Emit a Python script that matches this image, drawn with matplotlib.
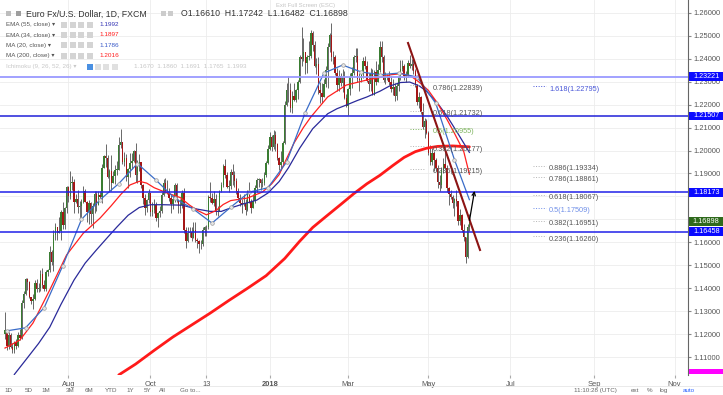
import numpy as np
import pandas as pd
import matplotlib
matplotlib.use("Agg")
import matplotlib.pyplot as plt
from matplotlib.patches import Rectangle
from matplotlib.transforms import blended_transform_factory

plt.rcParams['font.family'] = ['Liberation Sans', 'DejaVu Sans']

# EUR/USD daily bars (FXCM), 14 Jun 2017 .. 31 May 2018, one line per month
first_open = 1.1200
close = [
    1.1217, 1.1150, 1.1197, 1.1145, 1.1131, 1.1166, 1.1151, 1.1195, 1.1182, 1.1337, 1.1375, 1.1442, 1.1426,
    1.1362, 1.1346, 1.1352, 1.1423, 1.1399, 1.1401, 1.1462, 1.1413, 1.1397, 1.1470, 1.1478, 1.1557, 1.1514, 1.1632, 1.1665, 1.1642, 1.1648, 1.1734, 1.1676, 1.1750, 1.1842,
    1.1803, 1.1858, 1.1862, 1.1774, 1.1791, 1.1752, 1.1757, 1.1774, 1.1822, 1.1778, 1.1734, 1.1770, 1.1725, 1.1760, 1.1812, 1.1761, 1.1806, 1.1799, 1.1922, 1.1977, 1.1967, 1.1886, 1.1909,
    1.1860, 1.1887, 1.1915, 1.1917, 1.2025, 1.2035, 1.1950, 1.1967, 1.1885, 1.1920, 1.1945, 1.1953, 1.1998, 1.1892, 1.1939, 1.1950, 1.1850, 1.1794, 1.1748, 1.1785, 1.1814,
    1.1733, 1.1742, 1.1761, 1.1707, 1.1730, 1.1735, 1.1806, 1.1858, 1.1823, 1.1821, 1.1795, 1.1765, 1.1789, 1.1849, 1.1785, 1.1759, 1.1762, 1.1814, 1.1652, 1.1608, 1.1640, 1.1646,
    1.1620, 1.1655, 1.1609, 1.1608, 1.1594, 1.1592, 1.1655, 1.1665, 1.1665, 1.1797, 1.1795, 1.1771, 1.1791, 1.1733, 1.1737, 1.1824, 1.1850, 1.1932, 1.1894, 1.1843, 1.1846, 1.1905,
    1.1894, 1.1866, 1.1822, 1.1794, 1.1773, 1.1767, 1.1771, 1.1742, 1.1822, 1.1776, 1.1750, 1.1781, 1.1839, 1.1871, 1.1874, 1.1860, 1.1860, 1.1893, 1.1944, 1.2005,
    1.2058, 1.2015, 1.2068, 1.2029, 1.1967, 1.1937, 1.1948, 1.2033, 1.2200, 1.2264, 1.2263, 1.2186, 1.2236, 1.2220, 1.2262, 1.2299, 1.2408, 1.2398, 1.2427, 1.2382, 1.2406, 1.2413,
    1.2510, 1.2460, 1.2370, 1.2377, 1.2265, 1.2250, 1.2234, 1.2290, 1.2350, 1.2450, 1.2505, 1.2405, 1.2406, 1.2339, 1.2285, 1.2326, 1.2294, 1.2318, 1.2230, 1.2193,
    1.2268, 1.2318, 1.2336, 1.2406, 1.2411, 1.2312, 1.2306, 1.2335, 1.2388, 1.2370, 1.2302, 1.2288, 1.2336, 1.2241, 1.2340, 1.2297, 1.2352, 1.2449, 1.2405, 1.2307, 1.2320, 1.2322,
    1.2300, 1.2267, 1.2275, 1.2238, 1.2281, 1.2322, 1.2355, 1.2366, 1.2326, 1.2330, 1.2383, 1.2370, 1.2375, 1.2346, 1.2285, 1.2213, 1.2233, 1.2167, 1.2103, 1.2128, 1.2078,
    1.1991, 1.1950, 1.1988, 1.1960, 1.1923, 1.1865, 1.1850, 1.1917, 1.1943, 1.1925, 1.1835, 1.1810, 1.1796, 1.1770, 1.1790, 1.1780, 1.1695, 1.1720, 1.1655, 1.1625, 1.1537, 1.1665, 1.1690,
]
high = [
    1.1296, 1.1220, 1.1212, 1.1206, 1.1160, 1.1170, 1.1181, 1.1210, 1.1222, 1.1349, 1.1387, 1.1445, 1.1446,
    1.1430, 1.1363, 1.1374, 1.1435, 1.1441, 1.1423, 1.1480, 1.1490, 1.1437, 1.1479, 1.1484, 1.1583, 1.1566, 1.1656, 1.1684, 1.1668, 1.1712, 1.1742, 1.1777, 1.1752, 1.1846,
    1.1845, 1.1910, 1.1890, 1.1877, 1.1810, 1.1828, 1.1779, 1.1789, 1.1845, 1.1831, 1.1780, 1.1783, 1.1778, 1.1771, 1.1823, 1.1825, 1.1822, 1.1825, 1.1941, 1.1982, 1.2030, 1.1980, 1.1918,
    1.1980, 1.1912, 1.1937, 1.1953, 1.2058, 1.2092, 1.2017, 1.1994, 1.1985, 1.1925, 1.1990, 1.1990, 1.2004, 1.2034, 1.1960, 1.1985, 1.1950, 1.1855, 1.1810, 1.1790, 1.1833,
    1.1805, 1.1777, 1.1789, 1.1775, 1.1731, 1.1760, 1.1820, 1.1875, 1.1880, 1.1870, 1.1835, 1.1805, 1.1800, 1.1860, 1.1859, 1.1788, 1.1790, 1.1830, 1.1838, 1.1668, 1.1669, 1.1668,
    1.1669, 1.1687, 1.1688, 1.1620, 1.1610, 1.1612, 1.1665, 1.1670, 1.1674, 1.1808, 1.1861, 1.1815, 1.1822, 1.1812, 1.1760, 1.1830, 1.1861, 1.1940, 1.1961, 1.1906, 1.1872, 1.1920,
    1.1940, 1.1910, 1.1880, 1.1836, 1.1810, 1.1790, 1.1810, 1.1790, 1.1830, 1.1862, 1.1790, 1.1810, 1.1850, 1.1882, 1.1880, 1.1875, 1.1880, 1.1905, 1.1954, 1.2022,
    1.2081, 1.2066, 1.2089, 1.2084, 1.2032, 1.1972, 1.2000, 1.2040, 1.2217, 1.2295, 1.2323, 1.2296, 1.2257, 1.2296, 1.2270, 1.2306, 1.2416, 1.2537, 1.2492, 1.2422, 1.2415, 1.2475,
    1.2523, 1.2520, 1.2475, 1.2401, 1.2406, 1.2298, 1.2292, 1.2310, 1.2370, 1.2469, 1.2510, 1.2555, 1.2435, 1.2415, 1.2360, 1.2350, 1.2336, 1.2355, 1.2345, 1.2245,
    1.2273, 1.2337, 1.2365, 1.2414, 1.2446, 1.2446, 1.2336, 1.2347, 1.2408, 1.2413, 1.2388, 1.2336, 1.2360, 1.2355, 1.2350, 1.2388, 1.2375, 1.2476, 1.2476, 1.2417, 1.2340, 1.2335,
    1.2346, 1.2324, 1.2310, 1.2293, 1.2295, 1.2330, 1.2395, 1.2396, 1.2375, 1.2346, 1.2395, 1.2414, 1.2397, 1.2396, 1.2357, 1.2290, 1.2256, 1.2236, 1.2206, 1.2140, 1.2136,
    1.2085, 1.2023, 1.2009, 1.1996, 1.1967, 1.1935, 1.1895, 1.1930, 1.1968, 1.1996, 1.1935, 1.1840, 1.1830, 1.1808, 1.1793, 1.1830, 1.1780, 1.1746, 1.1725, 1.1680, 1.1625, 1.1680, 1.1724,
]
low = [
    1.1180, 1.1132, 1.1135, 1.1140, 1.1119, 1.1118, 1.1137, 1.1143, 1.1174, 1.1181, 1.1315, 1.1369, 1.1393,
    1.1356, 1.1330, 1.1311, 1.1350, 1.1384, 1.1384, 1.1390, 1.1400, 1.1390, 1.1387, 1.1453, 1.1470, 1.1500, 1.1477, 1.1610, 1.1612, 1.1640, 1.1612, 1.1660, 1.1660, 1.1728,
    1.1777, 1.1791, 1.1830, 1.1729, 1.1773, 1.1730, 1.1688, 1.1706, 1.1772, 1.1774, 1.1688, 1.1682, 1.1681, 1.1661, 1.1730, 1.1736, 1.1763, 1.1780, 1.1773, 1.1925, 1.1930, 1.1880, 1.1822,
    1.1823, 1.1860, 1.1855, 1.1895, 1.1920, 1.2010, 1.1943, 1.1933, 1.1869, 1.1837, 1.1883, 1.1920, 1.1948, 1.1862, 1.1860, 1.1910, 1.1836, 1.1768, 1.1718, 1.1733, 1.1771,
    1.1715, 1.1716, 1.1729, 1.1695, 1.1668, 1.1710, 1.1730, 1.1800, 1.1815, 1.1811, 1.1780, 1.1730, 1.1745, 1.1775, 1.1774, 1.1729, 1.1730, 1.1748, 1.1640, 1.1575, 1.1601, 1.1622,
    1.1607, 1.1620, 1.1600, 1.1575, 1.1555, 1.1570, 1.1586, 1.1628, 1.1630, 1.1660, 1.1774, 1.1765, 1.1757, 1.1720, 1.1715, 1.1736, 1.1820, 1.1842, 1.1880, 1.1835, 1.1820, 1.1833,
    1.1850, 1.1840, 1.1810, 1.1780, 1.1760, 1.1730, 1.1760, 1.1718, 1.1735, 1.1770, 1.1728, 1.1750, 1.1770, 1.1818, 1.1840, 1.1830, 1.1840, 1.1850, 1.1883, 1.1940,
    1.2004, 1.2000, 1.2005, 1.2000, 1.1960, 1.1915, 1.1915, 1.1935, 1.2030, 1.2195, 1.2210, 1.2166, 1.2165, 1.2215, 1.2212, 1.2223, 1.2294, 1.2370, 1.2390, 1.2335, 1.2336, 1.2396,
    1.2403, 1.2435, 1.2365, 1.2335, 1.2245, 1.2206, 1.2207, 1.2245, 1.2276, 1.2273, 1.2430, 1.2390, 1.2375, 1.2327, 1.2260, 1.2260, 1.2283, 1.2255, 1.2225, 1.2188,
    1.2155, 1.2240, 1.2273, 1.2330, 1.2386, 1.2298, 1.2260, 1.2297, 1.2317, 1.2355, 1.2299, 1.2260, 1.2260, 1.2240, 1.2240, 1.2285, 1.2300, 1.2340, 1.2386, 1.2300, 1.2290, 1.2305,
    1.2287, 1.2255, 1.2240, 1.2215, 1.2220, 1.2260, 1.2305, 1.2345, 1.2306, 1.2298, 1.2320, 1.2360, 1.2352, 1.2334, 1.2276, 1.2198, 1.2183, 1.2161, 1.2095, 1.2055, 1.2070,
    1.1982, 1.1938, 1.1938, 1.1911, 1.1911, 1.1838, 1.1823, 1.1835, 1.1900, 1.1920, 1.1820, 1.1763, 1.1790, 1.1750, 1.1716, 1.1760, 1.1676, 1.1675, 1.1645, 1.1608, 1.1510, 1.1532, 1.1648,
]

# indicator lines (bar index, price)
ma20_idx = [1, 11, 21, 31, 41, 51, 61, 71, 81, 91, 101, 111, 121, 131, 141, 151, 161, 171, 181, 191, 201, 211, 221, 231, 241, 249]
ma20_val = [1.1215, 1.1228, 1.1316, 1.1499, 1.1700, 1.1786, 1.1856, 1.1943, 1.1871, 1.1792, 1.1745, 1.1684, 1.1753, 1.1819, 1.1838, 1.1950,
            1.2165, 1.2337, 1.2372, 1.2342, 1.2330, 1.2337, 1.2320, 1.2205, 1.1960, 1.1786]
ema34_idx = [0, 8, 15, 24, 33, 42, 51, 57, 62, 67, 72, 76, 80, 87, 94, 99, 103, 108, 113, 117, 121, 130, 138, 143, 147, 151, 155, 160, 164,
             173, 183, 194, 201, 207, 213, 218, 222, 227, 232, 237, 241, 246, 249]
ema34_val = [1.1140, 1.1175, 1.1249, 1.1393, 1.1545, 1.1640, 1.1706, 1.1760, 1.1808, 1.1850, 1.1866, 1.1858, 1.1838, 1.1815, 1.1795, 1.1762,
             1.1740, 1.1720, 1.1738, 1.1765, 1.1782, 1.1793, 1.1819, 1.1855, 1.1895, 1.1965, 1.2033, 1.2100, 1.2146,
             1.2233, 1.2285, 1.2307, 1.2318, 1.2330, 1.2335, 1.2322, 1.2298, 1.2262, 1.2205, 1.2135, 1.2075, 1.1995, 1.1897]
ema55_idx = [5, 11, 18, 24, 30, 37, 43, 49, 55, 60, 66, 72, 78, 85, 95, 103, 110, 116, 121, 128, 135, 141, 147, 152, 158, 165, 173,
             178, 183, 189, 194, 201, 206, 212, 217, 222, 226, 232, 237, 243, 249]
ema55_val = [1.1025, 1.1087, 1.1160, 1.1231, 1.1330, 1.1436, 1.1510, 1.1567, 1.1622, 1.1667, 1.1718, 1.1752, 1.1764, 1.1764, 1.1762,
             1.1745, 1.1735, 1.1735, 1.1750, 1.1768, 1.1784, 1.1815, 1.1865, 1.1925, 1.2010, 1.2095, 1.2160,
             1.2182, 1.2198, 1.2218, 1.2233, 1.2258, 1.2280, 1.2296, 1.2298, 1.2282, 1.2258, 1.2205, 1.2150, 1.2072, 1.1992]
ma200_idx = [61, 70, 80, 90, 100, 110, 120, 130, 140, 150, 158, 165, 172, 180, 187, 194, 201, 208, 214, 220, 226, 232, 240, 249]
ma200_val = [1.1023, 1.1070, 1.1130, 1.1188, 1.1240, 1.1292, 1.1347, 1.1400, 1.1455, 1.1530, 1.1605, 1.1665, 1.1712, 1.1765,
             1.1812, 1.1855, 1.1892, 1.1935, 1.1970, 1.1995, 1.2010, 1.2018, 1.2020, 1.2016]

# drawings
h_levels = [1.23221, 1.21507, 1.18173, 1.16458]
h_colors = ['#9a9aff', '#2020d8', '#2020e8', '#2020e8']
trend_idx = [216.1, 254.7]
trend_val = [1.2468, 1.1567]
arrow_idx = [248.8, 252.0]
arrow_val = [1.1684, 1.1836]

fib_left_ratio = ['0.786', '0.618', '0.5', '0.382', '0.236']
fib_left_price = [1.22839, 1.21732, 1.20955, 1.20177, 1.19215]
fib_left_color = ['#555555', '#555555', '#7cb35c', '#555555', '#555555']
fib_right_ratio = ['1.618', '0.886', '0.786', '0.618', '0.5', '0.382', '0.236']
fib_right_price = [1.22795, 1.19334, 1.18861, 1.18067, 1.17509, 1.16951, 1.16260]
fib_right_color = ['#4a58d8', '#555555', '#555555', '#555555', '#6f8fe8', '#555555', '#555555']

tick_dates = ['2017-08-01', '2017-10-02', '2017-11-13', '2018-01-02', '2018-03-01', '2018-05-01', '2018-07-02', '2018-09-03', '2018-11-01']
tick_labels = ['Aug', 'Oct', '13', '2018', 'Mar', 'May', 'Jul', 'Sep', 'Nov']

tag_prices = [1.23221, 1.21507, 1.18173, 1.16898, 1.16458]
tag_colors = ['#0a0aff', '#0a0aff', '#0a0aff', '#2f6a1c', '#0a0aff']
hidden_ticks = [1.17, 1.18]   # scale labels covered by the price tags

# ------------------------------------------------------------------
W, H = 723, 395
PX_PER_PRICE = 2297.0
days = pd.bdate_range('2017-06-14', '2018-12-31')
days = days.drop(pd.to_datetime(['2017-12-25', '2018-01-01']))

c = np.array(close)
hi = np.array(high)
lo = np.array(low)
o = np.concatenate([[first_open], c[:-1]])
x = np.arange(len(c))

fig = plt.figure(figsize=(W / 100, H / 100), dpi=100)
ax = fig.add_axes([0, 1 - 375 / H, 688 / W, 375 / H])
ax.set_xlim(-5 / 1.865, 683 / 1.865)
ax.set_ylim(1.10227, 1.26553)

# grid
yt = np.round(np.arange(1.11, 1.2601, 0.01), 2)
xt = [days.get_loc(pd.Timestamp(d)) for d in tick_dates]
ax.set_yticks(yt)
ax.set_xticks(xt)
ax.grid(color='#ececec', lw=0.6, zorder=0)
ax.set_axisbelow(True)

# candles
up = c >= o
body_col = np.where(up, '#3a7d32', '#a51616')
top = np.maximum(hi, np.maximum(o, c))
bot = np.minimum(lo, np.minimum(o, c))
ax.vlines(x, bot, top, color='#505050', lw=0.6, zorder=3)
ax.bar(x, np.maximum(np.abs(c - o), 0.00025), bottom=np.minimum(o, c), width=0.75,
       color=body_col, lw=0, zorder=4)

# moving averages
ax.plot(ma200_idx, ma200_val, color='#ff1a1a', lw=2.0, zorder=5, solid_capstyle='round')
ax.plot(ema55_idx, ema55_val, color='#2a2a9a', lw=0.9, zorder=5)
ax.plot(ema34_idx, ema34_val, color='#ff2020', lw=0.9, zorder=5)
ax.plot(ma20_idx, ma20_val, color='#3a6cc8', lw=0.9, zorder=5,
        marker='o', markersize=2.6, markerfacecolor='#e6e6e6', markeredgecolor='#9a9a9a',
        markeredgewidth=0.5, markevery=list(range(len(ma20_idx) - 1)))

# horizontal levels
for lvl, col in zip(h_levels, h_colors):
    ax.axhline(lvl, color=col, lw=1.3 if col == '#9a9aff' else 1.1, zorder=6)

# fibonacci labels
for r, p, col in zip(fib_left_ratio, fib_left_price, fib_left_color):
    ax.hlines(p, 217.2, 224.5, colors='#b5b5b5' if col == '#555555' else col, linestyles=':', lw=0.7, zorder=6)
    ax.text(229.5, p + 0.0002, f'{r}({p:.5f})', fontsize=5.3, color=col, va='top', ha='left', zorder=7)
for r, p, col in zip(fib_right_ratio, fib_right_price, fib_right_color):
    ax.hlines(p, 283.0, 290.0, colors='#b5b5b5' if col == '#555555' else col, linestyles=':', lw=0.7, zorder=6)
    ax.text(291.7, p + 0.0002, f'{r}({p:.5f})', fontsize=5.3, color=col, va='top', ha='left', zorder=7)

# trend line and arrow
ax.plot(trend_idx, trend_val, color='#8c1414', lw=1.5, zorder=6)
ax.annotate('', xy=(arrow_idx[1], arrow_val[1]), xytext=(arrow_idx[0], arrow_val[0]),
            arrowprops=dict(arrowstyle='->', color='black', lw=0.9, mutation_scale=6), zorder=8)

# axes styling
for s in ['top', 'left', 'bottom']:
    ax.spines[s].set_visible(False)
ax.spines['right'].set_color('#666666')
ax.spines['right'].set_linewidth(0.8)
ax.yaxis.tick_right()
ax.set_yticklabels(['' if any(abs(v - h) < 1e-6 for h in hidden_ticks) else f'{v:.5f}' for v in yt])
ax.tick_params(axis='y', labelsize=5.4, labelcolor='#555555', color='#888888', length=2, pad=2)
ax.set_xticklabels(tick_labels)
ax.tick_params(axis='x', labelsize=5.4, labelcolor='#555555', color='#aaaaaa', length=2, pad=2)
ax.get_xticklabels()[3].set_fontweight('bold')

# price tags on the right scale
tr = blended_transform_factory(ax.transAxes, ax.transData)
half = 4.4 / PX_PER_PRICE
for p, col in zip(tag_prices, tag_colors):
    ax.add_patch(Rectangle((1.0015, p - half), 34.5 / 688, 2 * half, transform=tr,
                           fc=col, ec='none', clip_on=False, zorder=19))
    ax.text(1.0015 + 17.2 / 688, p, f'{p:.5f}', transform=tr, fontsize=5.2, color='white',
            va='center', ha='center', clip_on=False, zorder=20)


def fx(px):
    return px / W


def fy(py):
    return 1 - py / H


def box(px, py, w, h, col):
    fig.add_artist(Rectangle((fx(px), fy(py + h)), w / W, h / H, transform=fig.transFigure,
                             fc=col, ec='none', zorder=30))


# magenta tag cut off at the bottom of the scale
box(689, 369, 34, 5, '#ff00ff')

# legend block
box(6, 11, 5, 5, '#bdbdbd')
box(16, 11, 5, 5, '#9e9e9e')
fig.text(fx(26), fy(14), 'Euro Fx/U.S. Dollar, 1D, FXCM', fontsize=6.3, color='#333333', va='center', zorder=31)
box(161, 11, 5, 5, '#cccccc')
box(168, 11, 5, 5, '#cccccc')
fig.text(fx(181), fy(14), 'O1.16610  H1.17242  L1.16482  C1.16898', fontsize=6.3, color='#333333', va='center', zorder=31)

rows = [('EMA (55, close)', '1.1992', '#3434b4', 24.5),
        ('EMA (34, close)', '1.1897', '#ff1c1c', 35.0),
        ('MA (20, close)', '1.1786', '#3a5ac8', 45.3),
        ('MA (200, close)', '1.2016', '#ff1c1c', 55.7)]
for name, val, col, yy in rows:
    fig.text(fx(6), fy(yy), name + ' \u25be', fontsize=4.5, color='#555555', va='center', zorder=31)
    for k in range(4):
        box(61 + k * 8.6, yy - 3, 6, 6, '#d4d4d4')
    fig.text(fx(99), fy(yy), val, fontsize=4.6, color=col, va='center', zorder=31)

fig.text(fx(6), fy(66.7), 'Ichimoku (9, 26, 52, 26) \u25be', fontsize=4.5, color='#c8c8c8', va='center', zorder=31)
box(87, 63.5, 6, 6, '#4a90e2')
for k in range(1, 4):
    box(87 + k * 8.2, 63.5, 6, 6, '#e0e0e0')
fig.text(fx(134), fy(66.7), '1.1670  1.1860  1.1691  1.1765  1.1993', fontsize=4.6, color='#c8c8c8', va='center', zorder=31)

fig.text(fx(305), fy(5), 'Exit Full Screen (ESC)', fontsize=4.2, color='#c4c4c4', ha='center', va='center', zorder=31)

# bottom toolbar
fig.add_artist(plt.Line2D([0, 1], [fy(386), fy(386)], transform=fig.transFigure, color='#e6e6e6', lw=0.6))
for lab, px_ in [('1D', 8), ('5D', 29), ('1M', 46), ('3M', 70), ('6M', 89), ('YTD', 111),
                 ('1Y', 130), ('5Y', 147), ('All', 162), ('Go to...', 190),
                 ('11:10:28 (UTC)', 595), ('ext', 635), ('%', 650), ('log', 664)]:
    fig.text(fx(px_), fy(390.5), lab, fontsize=4.5, color='#666666', ha='center', va='center')
fig.text(fx(689), fy(390.5), 'auto', fontsize=4.5, color='#2962ff', ha='center', va='center')

fig.savefig('out.png', dpi=100)
